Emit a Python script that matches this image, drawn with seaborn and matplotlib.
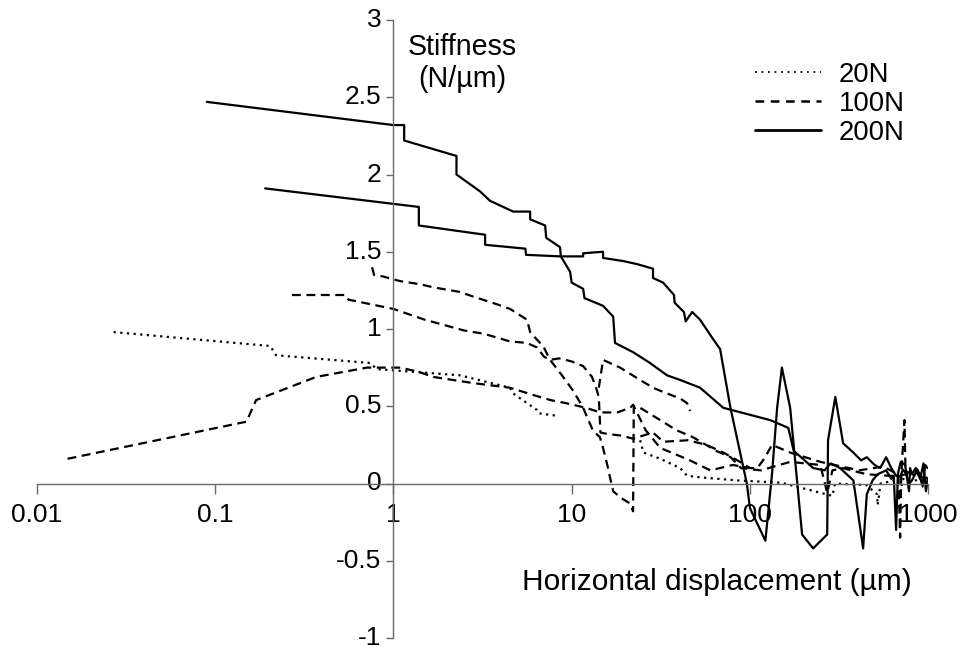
import matplotlib
matplotlib.use("Agg")
import numpy as np
import pandas as pd
import seaborn as sns
import matplotlib.pyplot as plt
from matplotlib.lines import Line2D
from matplotlib.ticker import NullLocator

# ---------------- data ----------------
forces = ["20N", "100N", "200N"]
x_ticks = [0.01, 0.1, 1, 10, 100, 1000]
x_tick_labels = ["0.01", "0.1", "1", "10", "100", "1000"]
y_ticks = [-1, -0.5, 0, 0.5, 1, 1.5, 2, 2.5, 3]
y_tick_labels = ["-1", "-0.5", "0", "0.5", "1", "1.5", "2", "2.5", "3"]

# 20N runs
n20_a_x = [0.027, 0.204, 0.22, 0.74, 0.81, 1.41, 2.37, 4.5, 4.67, 6.4, 6.5, 8.06]
n20_a_y = [0.98, 0.89, 0.83, 0.78, 0.74, 0.72, 0.70, 0.62, 0.585, 0.475, 0.455, 0.44]
n20_b_x = [24.2, 25.3, 31.4, 40.6, 44.4, 52.5, 85, 150, 290, 300, 450, 516, 520, 540,
           650, 700, 720, 800, 900, 1000]
n20_b_y = [0.28, 0.20, 0.16, 0.10, 0.05, 0.04, 0.02, 0.005, -0.08, 0.0, -0.01, -0.07,
           -0.14, 0.0, 0.02, -0.05, 0.03, 0.01, 0.03, 0.0]

# 100N runs
n100_a_x = [0.0149, 0.15, 0.17, 0.37, 0.71, 1.1, 1.41, 1.67, 2.8, 4.5, 6.2, 7.6, 9.3,
            12, 14.5, 18, 21.3, 22.1, 26, 31.4, 46, 60, 80, 100]
n100_a_y = [0.16, 0.40, 0.54, 0.69, 0.75, 0.75, 0.72, 0.69, 0.65, 0.62, 0.57, 0.54, 0.52,
            0.49, 0.46, 0.46, 0.49, 0.51, 0.345, 0.23, 0.15, 0.085, 0.12, 0.10]
n100_b_x = [0.27, 0.54, 0.56, 1.0, 1.5, 2.5, 3.2, 4.5, 5.6, 6.4, 7.0, 7.6, 8.5, 10,
            11.6, 13.0, 13.7, 14.2, 14.5, 16, 19, 22.1, 28.6, 32.6, 44.9, 57, 71, 85,
            100, 110, 120, 133, 168, 248, 410, 560, 695, 850, 1000]
n100_b_y = [1.22, 1.22, 1.19, 1.13, 1.06, 0.99, 0.97, 0.92, 0.91, 0.88, 0.82, 0.80, 0.81,
            0.79, 0.76, 0.69, 0.62, 0.56, 0.33, 0.32, 0.31, 0.29, 0.33, 0.27, 0.28, 0.25,
            0.20, 0.15, 0.10, 0.10, 0.16, 0.25, 0.20, 0.14, 0.085, 0.11, 0.05, 0.08, 0.03]
n100_c_x = [0.76, 0.78, 0.875, 1.09, 1.41, 1.67, 2.36, 2.8, 3.81, 4.51, 5.62, 5.85, 6.4,
            6.92, 7.57, 8.96, 10.2, 11.6, 12.2, 13.2, 14.4, 15.0, 16.0, 16.4, 17.1, 18.7,
            21.3, 22.1, 22.3, 24.2, 31.4, 38.7, 47.8, 65, 78, 89, 115, 168, 248, 271,
            290, 330, 450, 600, 680, 695, 705, 735, 745, 850, 1000]
n100_c_y = [1.40, 1.35, 1.34, 1.31, 1.29, 1.27, 1.24, 1.21, 1.16, 1.13, 1.06, 0.98, 0.93,
            0.89, 0.80, 0.69, 0.60, 0.49, 0.43, 0.34, 0.30, 0.23, 0.10, 0.04, -0.05, -0.09,
            -0.13, -0.18, 0.50, 0.49, 0.41, 0.345, 0.30, 0.21, 0.17, 0.10, 0.085, 0.14,
            0.12, -0.06, 0.085, 0.10, 0.06, 0.05, 0.05, -0.35, 0.05, 0.41, 0.08, 0.05, 0.03]
n100_d_x = [14.2, 15.0, 18.7, 24.2, 28.6, 31.4, 40.6, 44.4, 46.2]
n100_d_y = [0.62, 0.80, 0.75, 0.67, 0.62, 0.60, 0.55, 0.52, 0.47]

# 200N runs
n200_a_x = [0.090, 1.0, 1.15, 1.15, 2.26, 2.26, 3.07, 3.48, 4.70, 5.85, 5.85, 7.1, 7.2,
            8.6, 8.7, 9.8, 10.0, 11.6, 11.8, 15.0, 17.1, 17.5, 22.1, 27.5, 34.3, 40.6,
            52.5, 70.8, 89, 130, 164, 176, 198, 226, 262, 283, 320, 380, 431, 452, 487,
            520, 580, 620, 640, 660, 675, 700, 741, 780, 790, 810, 850, 875, 930, 960, 990]
n200_a_y = [2.47, 2.32, 2.32, 2.22, 2.12, 2.0, 1.89, 1.83, 1.76, 1.76, 1.71, 1.67, 1.59,
            1.53, 1.47, 1.37, 1.30, 1.26, 1.20, 1.15, 1.08, 0.91, 0.85, 0.78, 0.70, 0.67,
            0.62, 0.49, 0.46, 0.41, 0.36, 0.21, 0.16, 0.10, 0.085, 0.13, 0.10, 0.02, -0.42,
            -0.07, 0.02, 0.06, 0.085, 0.03, 0.05, -0.30, 0.06, 0.14, 0.12, -0.05, 0.10,
            0.06, 0.10, 0.085, -0.02, 0.12, 0.10]
n200_b_x = [0.191, 1.0, 1.39, 1.39, 3.27, 3.27, 5.5, 5.55, 8.6, 11.6, 11.6, 15.0, 15.0,
            19.4, 23.3, 28.6, 28.6, 32.6, 37.5, 37.8, 42.6, 43.6, 47.4, 52.5, 62.5, 68,
            77.7, 96, 100, 122, 133, 142, 151, 168, 182, 196, 226, 271, 274, 301, 333,
            380, 420, 452, 500, 537, 580, 620, 660, 695, 720, 750, 780, 810, 860, 900,
            940, 970, 990]
n200_b_y = [1.91, 1.81, 1.79, 1.67, 1.61, 1.545, 1.52, 1.48, 1.47, 1.47, 1.49, 1.50, 1.46,
            1.44, 1.42, 1.39, 1.33, 1.30, 1.22, 1.17, 1.11, 1.05, 1.11, 1.06, 0.93, 0.87,
            0.49, 0.0, -0.16, -0.37, 0.065, 0.49, 0.75, 0.49, 0.065, -0.33, -0.42, -0.33,
            0.28, 0.56, 0.26, 0.20, 0.15, 0.17, 0.12, 0.10, 0.17, 0.10, 0.05, 0.04, 0.09,
            0.065, 0.0, 0.02, 0.08, 0.03, 0.13, -0.05, 0.02]

runs = [
    ("20N", "20N-a", n20_a_x, n20_a_y),
    ("20N", "20N-b", n20_b_x, n20_b_y),
    ("100N", "100N-a", n100_a_x, n100_a_y),
    ("100N", "100N-b", n100_b_x, n100_b_y),
    ("100N", "100N-c", n100_c_x, n100_c_y),
    ("100N", "100N-d", n100_d_x, n100_d_y),
    ("200N", "200N-a", n200_a_x, n200_a_y),
    ("200N", "200N-b", n200_b_x, n200_b_y),
]
frames = []
for force, run, xs, ys in runs:
    frames.append(pd.DataFrame({"x": xs, "y": ys, "force": force, "run": run}))
df = pd.concat(frames, ignore_index=True)

# ---------------- style ----------------
sns.set_theme(style="white", rc={"text.color": "black", "xtick.color": "black",
                                 "ytick.color": "black", "axes.labelcolor": "black"})
plt.rcParams["font.family"] = ["Liberation Sans", "DejaVu Sans"]

fig = plt.figure(figsize=(9.65, 6.49), dpi=100)
ax = fig.add_axes([36.7 / 965, 11 / 649, (928.3 - 36.7) / 965, 618 / 649])
ax.set_facecolor("white")

dash_map = {"20N": (1, 2), "100N": (4, 2.5), "200N": ""}
sns.lineplot(data=df, x="x", y="y", units="run", style="force", style_order=forces,
             estimator=None, sort=False, color="black", dashes=dash_map,
             linewidth=1.6, legend=False, ax=ax)

ax.set_xscale("log")
ax.set_xlim(0.01, 1000)
ax.set_ylim(-1, 3)
ax.xaxis.set_minor_locator(NullLocator())
ax.set_xticks(x_ticks)
ax.set_xticklabels(x_tick_labels)
ax.set_yticks(y_ticks)
ax.set_yticklabels(y_tick_labels)
ax.set_xlabel("")
ax.set_ylabel("")

axis_col = "#6a6a6a"
for s in ["top", "right"]:
    ax.spines[s].set_visible(False)
ax.spines["left"].set_position(("data", 1))
ax.spines["bottom"].set_position(("data", 0))
for s in ["left", "bottom"]:
    ax.spines[s].set_color(axis_col)
    ax.spines[s].set_linewidth(1.0)

ax.tick_params(axis="x", direction="out", length=7, width=1, color=axis_col,
               pad=7, labelsize=19, bottom=True)
ax.tick_params(axis="y", direction="out", length=5, width=1, color=axis_col,
               pad=3.5, labelsize=19, left=True)
for lab in ax.get_yticklabels():
    lab.set_verticalalignment("center")

fig.text(408 / 965, 1 - 47 / 649, "Stiffness", fontsize=20.6, ha="left", va="center")
fig.text(418 / 965, 1 - 79 / 649, "(N/µm)", fontsize=20.6, ha="left", va="center")
fig.text(522 / 965, 1 - 582 / 649, "Horizontal displacement (µm)", fontsize=21.5,
         ha="left", va="center")

handles = [
    Line2D([], [], color="black", lw=1.3, ls=(0, (1, 2.6))),
    Line2D([], [], color="black", lw=1.8, ls=(0, (3.5, 2.6))),
    Line2D([], [], color="black", lw=2.0, ls="-"),
]
ax.legend(handles, forces, loc="upper left", bbox_to_anchor=(755 / 965, 1 - 62 / 649),
          bbox_transform=fig.transFigure, frameon=False, fontsize=19.8,
          handlelength=2.4, handletextpad=0.65, labelspacing=0.1,
          borderpad=0, borderaxespad=0)

fig.savefig("out.png", dpi=100)
